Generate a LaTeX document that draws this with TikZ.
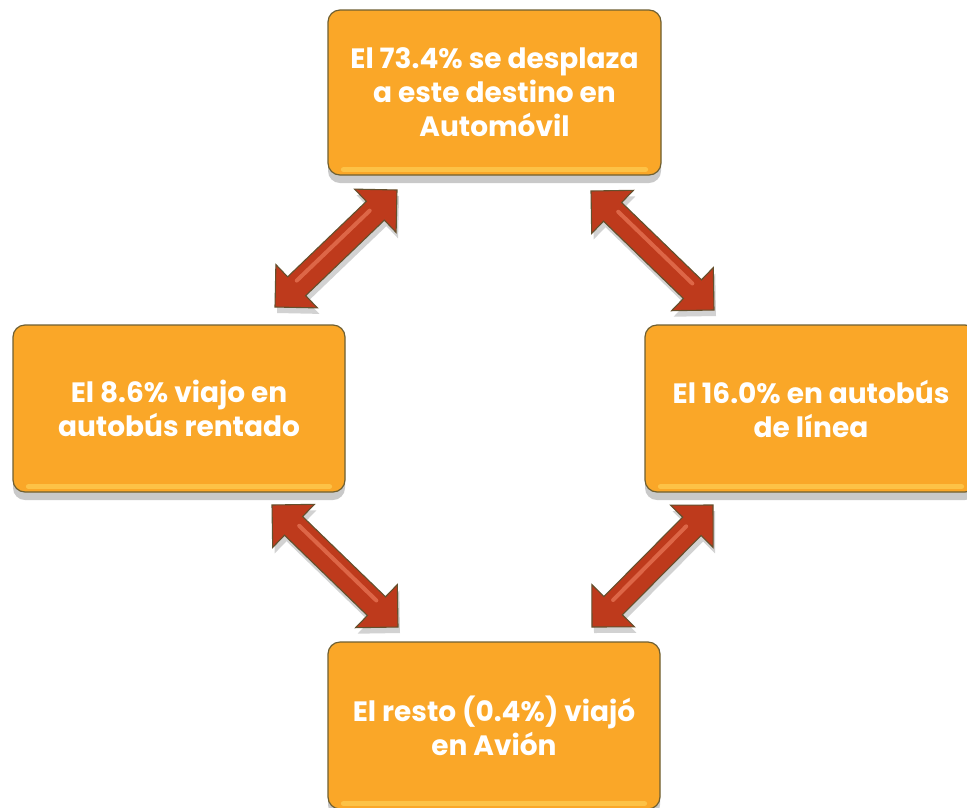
\documentclass[tikz,border=0pt]{standalone}
\usepackage{fontspec}
\setmainfont{Poppins}
\usetikzlibrary{calc,shadows}
\definecolor{boxfill}{RGB}{250,167,40}
\definecolor{boxedge}{RGB}{110,95,50}
\definecolor{boxlight}{RGB}{255,212,90}
\definecolor{arrfill}{RGB}{190,58,28}
\definecolor{arrlight}{RGB}{232,118,86}
\definecolor{arredge}{RGB}{100,80,45}
\tikzset{
  card/.style={rectangle, rounded corners=12pt, draw=boxedge, line width=1.2pt,
    fill=boxfill, text=white, font=\bfseries\fontsize{28}{34}\selectfont,
    align=center, inner sep=0pt,
    drop shadow={shadow xshift=0pt, shadow yshift=-8pt, opacity=0.3, fill=black!70}},
  cardlight/.style={draw=boxlight, line width=5pt, line cap=round, opacity=0.6},
  blockarr/.style={fill=arrfill, draw=arredge, line width=1.1pt, line join=miter,
    drop shadow={shadow xshift=2pt, shadow yshift=-6pt, opacity=0.25, fill=black!70}},
  arrhl/.style={draw=arrlight, line width=4pt, line cap=round, opacity=0.75},
}
\newcommand\dblarr[2]{%
  \path[blockarr] (#1)
    -- ($(#1)!30pt!(#2)!30pt!90:(#2)$)
    -- ($(#1)!30pt!(#2)!13pt!90:(#2)$)
    -- ($(#2)!30pt!(#1)!13pt!-90:(#1)$)
    -- ($(#2)!30pt!(#1)!30pt!-90:(#1)$)
    -- (#2)
    -- ($(#2)!30pt!(#1)!30pt!90:(#1)$)
    -- ($(#2)!30pt!(#1)!13pt!90:(#1)$)
    -- ($(#1)!30pt!(#2)!13pt!-90:(#2)$)
    -- ($(#1)!30pt!(#2)!30pt!-90:(#2)$)
    -- cycle;
  \path[arrhl] ($(#1)!34pt!(#2)!4pt!90:(#2)$) -- ($(#2)!34pt!(#1)!4pt!-90:(#1)$);
}
\begin{document}
\begin{tikzpicture}[x=1pt,y=-1pt]
\useasboundingbox (0,0) rectangle (967,807);
% boxes
\node[card, minimum width=333pt, minimum height=165pt] (top) at (494.5,92.5)
  {El 73.4\% se desplaza\\a este destino en\\Automóvil};
\node[card, minimum width=332pt, minimum height=167pt] (left) at (179,408.5)
  {El 8.6\% viajo en\\autobús rentado};
\node[card, minimum width=332pt, minimum height=167pt] (right) at (811,408.5)
  {El 16.0\% en autobús\\de línea};
\node[card, minimum width=332pt, minimum height=167pt] (bottom) at (494,725.5)
  {El resto (0.4\%) viajó\\en Avión};
% bottom highlights
\foreach \n in {top,left,right,bottom}{
  \path[cardlight] ($(\n.south west)+(16,-6)$) -- ($(\n.south east)+(-16,-6)$);
}
% arrow end points
\coordinate (a1s) at (275,307);
\coordinate (a1e) at (397,190);
\coordinate (a2s) at (591,191);
\coordinate (a2e) at (714,310);
\coordinate (a3s) at (272,505);
\coordinate (a3e) at (398,627);
\coordinate (a4s) at (592,627);
\coordinate (a4e) at (713,505);
\dblarr{a1s}{a1e}
\dblarr{a2s}{a2e}
\dblarr{a3s}{a3e}
\dblarr{a4s}{a4e}
\end{tikzpicture}
\end{document}
